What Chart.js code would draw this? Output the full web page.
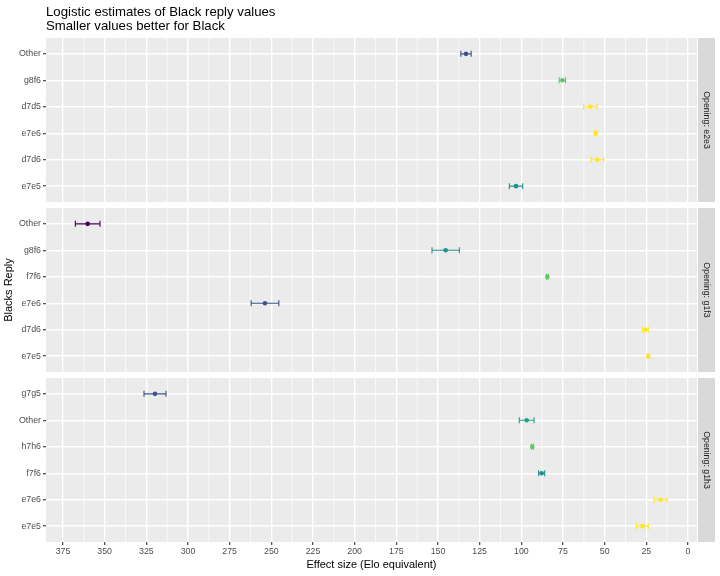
<!DOCTYPE html>
<html>
<head>
<meta charset="UTF-8">
<title>Logistic estimates of Black reply values</title>
<script src="https://cdn.jsdelivr.net/npm/chart.js"></script>
<style>
  body { margin: 0; background: #ffffff; }
  canvas { display: block; }
</style>
</head>
<body>
<canvas id="chart" width="720" height="576"></canvas>
<script>
// facets, one per White opening; replies listed top to bottom
var openings = ['Opening: e2e3', 'Opening: g1f3', 'Opening: g1h3'];

var e2e3Replies = ['Other', 'g8f6', 'd7d5', 'e7e6', 'd7d6', 'e7e5'];
var e2e3Est     = [133.2, 75.4, 58.6, 55.4, 54.4, 103.2];
var e2e3Err     = [3.1, 1.9, 4.0, 0.6, 3.8, 4.0];

var g1f3Replies = ['Other', 'g8f6', 'f7f6', 'e7e6', 'd7d6', 'e7e5'];
var g1f3Est     = [360.2, 145.4, 84.4, 253.8, 25.6, 23.8];
var g1f3Err     = [7.4, 8.2, 0.5, 8.3, 1.8, 0.6];

var g1h3Replies = ['g7g5', 'Other', 'h7h6', 'f7f6', 'e7e6', 'e7e5'];
var g1h3Est     = [319.8, 96.8, 93.4, 87.8, 16.4, 27.4];
var g1h3Err     = [6.6, 4.4, 0.6, 1.8, 3.9, 3.6];

var xTicks = [0, 25, 50, 75, 100, 125, 150, 175, 200, 225, 250, 275, 300, 325, 350, 375];

// viridis colours as they appear on each point
var e2e3Colors = ['#3B528B', '#5DC863', '#FDE725', '#FDE725', '#FDE725', '#21908C'];
var g1f3Colors = ['#440154', '#21908C', '#5DC863', '#3B528B', '#FDE725', '#FDE725'];
var g1h3Colors = ['#3B528B', '#20A486', '#5DC863', '#21908C', '#FDE725', '#FDE725'];

var facets = [
    { replies: e2e3Replies, est: e2e3Est, err: e2e3Err, colors: e2e3Colors },
    { replies: g1f3Replies, est: g1f3Est, err: g1f3Err, colors: g1f3Colors },
    { replies: g1h3Replies, est: g1h3Est, err: g1h3Err, colors: g1h3Colors }
];

var FONT = '"Liberation Sans", Arial, sans-serif';
var nRows = 6;
var span = nRows - 1 + 1.2;          // ggplot discrete expansion 0.6 each side
var halfGap = 3 * span / 164;        // half of panel spacing, in row units

function yRange(k) {
    var lo = 0.4, hi = nRows + 0.6;
    if (k > 0) hi += halfGap;
    if (k < facets.length - 1) lo -= halfGap;
    return [lo, hi];
}

function facetAxis(k, withTitle) {
    var f = facets[k];
    var r = yRange(k);
    return {
        type: 'linear',
        position: 'left',
        stack: 'facets',
        stackWeight: r[1] - r[0],
        min: r[0],
        max: r[1],
        afterBuildTicks: function (s) {
            s.ticks = f.replies.map(function (_, i) { return { value: nRows - i }; });
        },
        afterFit: function (s) { s.width = 46; },
        ticks: {
            autoSkip: false,
            padding: 2,
            color: '#4D4D4D',
            font: { family: FONT, size: 8.8 },
            callback: function (v) { return f.replies[nRows - v]; }
        },
        grid: { color: '#FFFFFF', lineWidth: 1.4, tickLength: 3, tickColor: '#333333', tickWidth: 1.1 },
        border: { display: false },
        title: {
            display: withTitle,
            text: 'Blacks Reply',
            color: '#000000',
            font: { family: FONT, size: 11 },
            padding: { top: 2, bottom: 0 }
        }
    };
}

var datasets = facets.map(function (f, k) {
    return {
        data: f.est.map(function (v, i) { return { x: v, y: nRows - i }; }),
        yAxisID: 'y' + k,
        pointRadius: 2.3,
        pointHoverRadius: 2.3,
        pointBorderWidth: 0,
        pointBackgroundColor: f.colors,
        pointBorderColor: f.colors,
        showLine: false
    };
});

var facetPlugin = {
    id: 'facets',
    beforeDraw: function (chart) {
        var ctx = chart.ctx, ca = chart.chartArea, xs = chart.scales.x;
        ctx.save();
        facets.forEach(function (f, k) {
            var ys = chart.scales['y' + k];
            var top = ys.getPixelForValue(nRows + 0.6);
            var bottom = ys.getPixelForValue(0.4);
            ctx.fillStyle = '#EBEBEB';
            ctx.fillRect(ca.left, top, ca.right - ca.left, bottom - top);
            // minor grid
            ctx.strokeStyle = '#FFFFFF';
            ctx.lineWidth = 0.7;
            for (var m = 12.5; m < xs.max; m += 25) {
                if (m < xs.min) continue;
                var px = xs.getPixelForValue(m);
                ctx.beginPath();
                ctx.moveTo(px, top);
                ctx.lineTo(px, bottom);
                ctx.stroke();
            }
            // strip
            ctx.fillStyle = '#D9D9D9';
            ctx.fillRect(ca.right + 1, top, 17, bottom - top);
            ctx.save();
            ctx.translate(ca.right + 1 + 8.5, (top + bottom) / 2);
            ctx.rotate(Math.PI / 2);
            ctx.fillStyle = '#1A1A1A';
            ctx.font = '8.8px ' + FONT;
            ctx.textAlign = 'center';
            ctx.textBaseline = 'middle';
            ctx.fillText(openings[k], 0, 0);
            ctx.restore();
        });
        // title
        ctx.fillStyle = '#000000';
        ctx.font = '13.2px ' + FONT;
        ctx.textAlign = 'left';
        ctx.textBaseline = 'alphabetic';
        ctx.fillText('Logistic estimates of Black reply values', ca.left, 15.5);
        ctx.fillText('Smaller values better for Black', ca.left, 30);
        ctx.restore();
    },
    beforeDatasetsDraw: function (chart) {
        var ctx = chart.ctx, xs = chart.scales.x;
        ctx.save();
        ctx.lineWidth = 1.1;
        facets.forEach(function (f, k) {
            var ys = chart.scales['y' + k];
            f.est.forEach(function (v, i) {
                var y = ys.getPixelForValue(nRows - i);
                var x1 = xs.getPixelForValue(v - f.err[i]);
                var x2 = xs.getPixelForValue(v + f.err[i]);
                ctx.strokeStyle = f.colors[i];
                ctx.beginPath();
                ctx.moveTo(x1, y); ctx.lineTo(x2, y);
                ctx.moveTo(x1, y - 3); ctx.lineTo(x1, y + 3);
                ctx.moveTo(x2, y - 3); ctx.lineTo(x2, y + 3);
                ctx.stroke();
            });
        });
        ctx.restore();
    }
};

var ctx = document.getElementById('chart').getContext('2d');
var chart = new Chart(ctx, {
    type: 'scatter',
    data: { datasets: datasets },
    options: {
        responsive: false,
        animation: false,
        devicePixelRatio: 1,
        layout: { padding: { top: 38, right: 23, bottom: 0, left: 0 } },
        plugins: { legend: { display: false }, tooltip: { enabled: false } },
        scales: {
            x: {
                type: 'linear',
                reverse: true,
                min: -5.4,
                max: 385.2,
                afterBuildTicks: function (s) {
                    s.ticks = xTicks.map(function (v) { return { value: v }; });
                },
                afterFit: function (s) { s.height = 34; },
                ticks: {
                    autoSkip: false,
                    maxRotation: 0,
                    padding: 1,
                    color: '#4D4D4D',
                    font: { family: FONT, size: 8.8 }
                },
                grid: { color: '#FFFFFF', lineWidth: 1.4, tickLength: 3, tickColor: '#333333', tickWidth: 1.1 },
                border: { display: false },
                title: {
                    display: true,
                    text: 'Effect size (Elo equivalent)',
                    color: '#000000',
                    font: { family: FONT, size: 11 },
                    padding: { top: 0, bottom: 4 }
                }
            },
            y2: facetAxis(2, false),
            y1: facetAxis(1, true),
            y0: facetAxis(0, false)
        }
    },
    plugins: [facetPlugin]
});
</script>
</body>
</html>
